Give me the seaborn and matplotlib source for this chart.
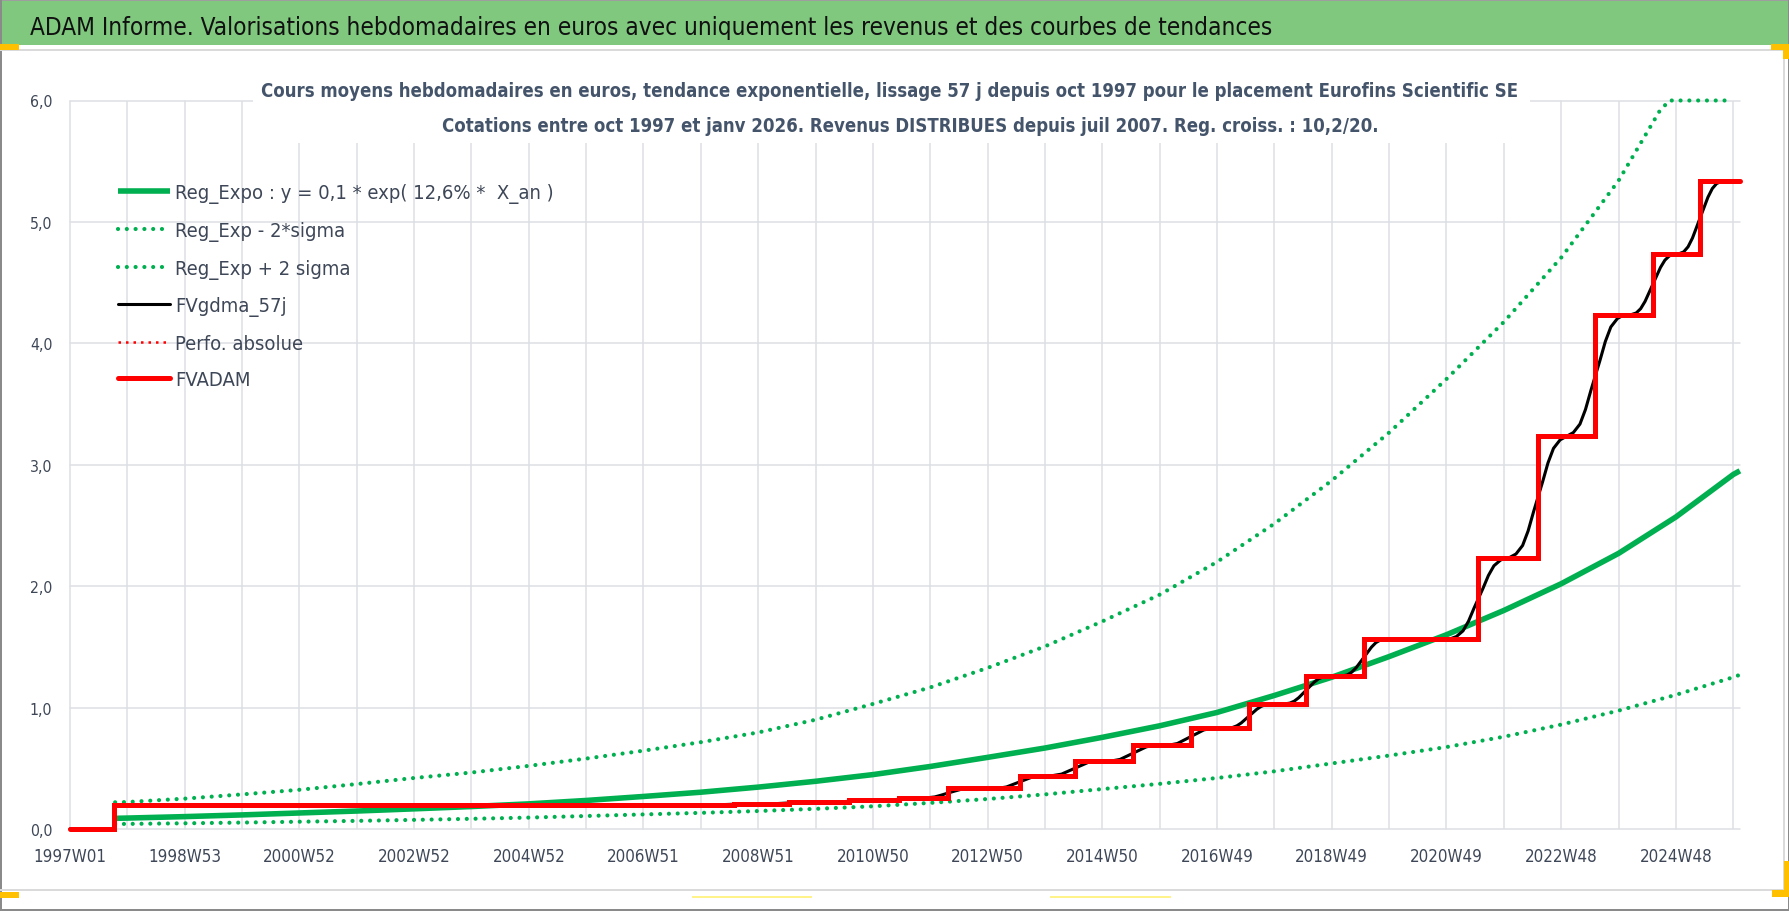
import numpy as np
import pandas as pd
import seaborn as sns
import matplotlib
matplotlib.use("Agg")
import matplotlib.pyplot as plt
from matplotlib import font_manager as fm
from matplotlib.patches import Rectangle

# ---------------- data ----------------
N_WEEKS = 1515  # weekly categories 1997W01 ... 2026W02
X_TICK_LABELS = ["1997W01", "1998W53", "2000W52", "2002W52", "2004W52", "2006W51",
                 "2008W51", "2010W50", "2012W50", "2014W50", "2016W49", "2018W49",
                 "2020W49", "2022W48", "2024W48"]
Y_TICK_LABELS = ["0,0", "1,0", "2,0", "3,0", "4,0", "5,0", "6,0"]

REG_WEEKS = [41, 52, 104, 156, 208, 260, 312, 364, 416, 468, 520, 572, 624, 676, 728,
             780, 832, 884, 936, 988, 1040, 1092, 1144, 1196, 1248, 1300, 1352, 1404,
             1456, 1508, 1514]
REG_EXPO = [0.088, 0.09, 0.102, 0.116, 0.132, 0.148, 0.166, 0.185, 0.207, 0.235, 0.268,
            0.303, 0.345, 0.393, 0.448, 0.515, 0.59, 0.667, 0.755, 0.85, 0.96, 1.1,
            1.25, 1.42, 1.6, 1.8, 2.02, 2.27, 2.57, 2.92, 2.95]
REG_LOW = [0.041, 0.042, 0.047, 0.053, 0.06, 0.067, 0.075, 0.084, 0.094, 0.107, 0.12,
           0.133, 0.148, 0.166, 0.187, 0.215, 0.247, 0.285, 0.329, 0.372, 0.42, 0.475,
           0.54, 0.605, 0.675, 0.76, 0.86, 0.975, 1.105, 1.25, 1.27]

UP_WEEKS = [41, 52, 104, 156, 208, 260, 312, 364, 416, 468, 520, 572, 624, 676, 728,
            780, 832, 884, 936, 988, 1040, 1092, 1144, 1196, 1248, 1300, 1352, 1404,
            1441, 1450, 1508]
REG_UP = [0.22, 0.222, 0.25, 0.285, 0.323, 0.37, 0.42, 0.465, 0.52, 0.58, 0.645, 0.715,
          0.795, 0.9, 1.03, 1.166, 1.327, 1.504, 1.71, 1.93, 2.2, 2.515, 2.87, 3.265,
          3.706, 4.176, 4.706, 5.34, 5.91, 6.0, 6.0]

FVADAM_WEEKS = [0, 40, 549, 602, 652, 706, 752, 796, 861, 911, 964, 1016, 1069, 1121,
                1173, 1277, 1331, 1383, 1435, 1478, 1514]
FVADAM = [0.0, 0.197, 0.2, 0.209, 0.221, 0.235, 0.256, 0.335, 0.44, 0.56, 0.69, 0.83,
          1.03, 1.26, 1.565, 2.235, 3.235, 4.235, 4.735, 5.335, 5.335]

FVGDMA_WEEKS = [0, 40, 41, 590, 615, 640, 665, 694, 718, 740, 764,
                776, 784, 790, 796, 802, 808, 816,
                841, 849, 855, 861, 867, 873, 881,
                891, 899, 905, 911, 917, 923, 931,
                944, 952, 958, 964, 970, 976, 984,
                996, 1004, 1010, 1016, 1022, 1028, 1036,
                1049, 1054, 1058, 1062, 1066, 1069, 1072, 1076, 1080, 1084, 1089,
                1101, 1106, 1110, 1114, 1118, 1121, 1124, 1128, 1132, 1136, 1141,
                1153, 1158, 1162, 1166, 1170, 1173, 1176, 1180, 1184, 1188, 1193,
                1251, 1257, 1263, 1268, 1273, 1277, 1281, 1286, 1291, 1297, 1303,
                1305, 1311, 1317, 1322, 1327, 1331, 1335, 1340, 1345, 1351, 1357,
                1363, 1369, 1374, 1379, 1383, 1387, 1392, 1397, 1403, 1409,
                1415, 1420, 1424, 1428, 1432, 1435, 1438, 1442, 1446, 1450, 1455,
                1458, 1463, 1467, 1471, 1475, 1478, 1481, 1485, 1489, 1493, 1498, 1514]
FVGDMA = [0.0, 0.0, 0.197, 0.2, 0.209, 0.209, 0.221, 0.221, 0.235, 0.235, 0.256,
          0.256, 0.264, 0.279, 0.296, 0.312, 0.327, 0.335,
          0.335, 0.346, 0.367, 0.388, 0.409, 0.43, 0.44,
          0.44, 0.452, 0.476, 0.5, 0.524, 0.548, 0.56,
          0.56, 0.573, 0.599, 0.625, 0.651, 0.677, 0.69,
          0.69, 0.704, 0.732, 0.76, 0.788, 0.816, 0.83,
          0.83, 0.836, 0.85, 0.874, 0.906, 0.93, 0.954, 0.986, 1.01, 1.024, 1.03,
          1.03, 1.037, 1.053, 1.081, 1.117, 1.145, 1.173, 1.209, 1.237, 1.252, 1.26,
          1.26, 1.269, 1.291, 1.327, 1.376, 1.413, 1.449, 1.498, 1.535, 1.556, 1.565,
          1.565, 1.585, 1.632, 1.712, 1.82, 1.9, 1.98, 2.088, 2.168, 2.215, 2.235,
          2.235, 2.265, 2.335, 2.455, 2.615, 2.735, 2.855, 3.015, 3.135, 3.205, 3.235,
          3.265, 3.335, 3.455, 3.615, 3.735, 3.855, 4.015, 4.135, 4.205, 4.235,
          4.235, 4.25, 4.285, 4.345, 4.425, 4.485, 4.545, 4.625, 4.685, 4.72, 4.735,
          4.735, 4.753, 4.795, 4.867, 4.963, 5.035, 5.107, 5.203, 5.275, 5.317, 5.335, 5.335]

TITLE = ("ADAM Informe. Valorisations hebdomadaires en euros avec uniquement les revenus "
         "et des courbes de tendances")
SUB1 = ("Cours moyens hebdomadaires en euros, tendance exponentielle, lissage 57 j depuis "
        "oct 1997 pour le placement Eurofins Scientific SE")
SUB2 = ("Cotations entre oct 1997 et janv 2026. Revenus DISTRIBUES depuis juil 2007. "
        "Reg. croiss. : 10,2/20.")
LEGEND_LABELS = ["Reg_Expo : y = 0,1 * exp( 12,6% *  X_an )", "Reg_Exp - 2*sigma",
                 "Reg_Exp + 2 sigma", "FVgdma_57j", "Perfo. absolue", "FVADAM"]

# ---------------- style ----------------
W, H = 1790, 912
GREEN = "#00B050"
RED = "#FF0000"
GRID = "#DCDFE4"
TEXT = "#3E4757"
SUBC = "#44546A"

sns.set_theme(style="white")
entries = fm.fontManager.ttflist
names = {f.name for f in entries}
stretch = "normal"
if "Liberation Sans Narrow" in names:
    FONT = "Liberation Sans Narrow"
elif any(f.name == "DejaVu Sans" and "condensed" in str(f.stretch) for f in entries):
    FONT, stretch = "DejaVu Sans", "condensed"
elif "Lato" in names:
    FONT = "Lato"
else:
    FONT = "DejaVu Sans"
plt.rcParams["font.family"] = [FONT, "DejaVu Sans"]
plt.rcParams["font.stretch"] = stretch

fig = plt.figure(figsize=(W / 100, H / 100), dpi=100)
fig.patch.set_facecolor("white")


def px_rect(x0, y0, x1, y1, color, z=-1):
    fig.add_artist(Rectangle((x0 / W, 1 - y1 / H), (x1 - x0) / W, (y1 - y0) / H,
                             transform=fig.transFigure, facecolor=color,
                             edgecolor="none", zorder=z))


# window / chart decorations
px_rect(0, 1, W, 46, "#7FC87E")
px_rect(0, 0, W, 1.5, "#9E9E9E")
px_rect(0, 0, 2, H, "#8A8A8A")
px_rect(W - 2, 0, W, H, "#8A8A8A")
px_rect(0, H - 2.5, W, H, "#8A8A8A")
px_rect(0, 50, 1785, 52, "#DADADA")
px_rect(1783, 50, 1785, 892, "#DADADA")
px_rect(0, 890, 1785, 892, "#DADADA")
px_rect(0, 45, 19, 51, "#FFC000")
px_rect(1771, 45, 1789, 51, "#FFC000")
px_rect(1783, 45, 1789, 60, "#FFC000")
px_rect(0, 893, 19, 899, "#FFC000")
px_rect(1784, 862, 1790, 898, "#FFC000")
px_rect(1772, 891, 1790, 898, "#FFC000")
px_rect(692, 897, 812, 899, "#FFF38A")
px_rect(1050, 897, 1171, 899, "#FFF38A")

ax = fig.add_axes([69.9 / W, 1 - 830 / H, 1670 / W, (830 - 101.5) / H])
ax.set_facecolor("white")

sns.lineplot(data=pd.DataFrame({"week": REG_WEEKS, "value": REG_EXPO}), x="week", y="value",
             ax=ax, color=GREEN, linewidth=4.0, estimator=None, clip_on=False,
             solid_capstyle="butt", solid_joinstyle="round", label=LEGEND_LABELS[0])
sns.lineplot(data=pd.DataFrame({"week": REG_WEEKS, "value": REG_LOW}), x="week", y="value",
             ax=ax, color=GREEN, linewidth=3.0, estimator=None, clip_on=False,
             linestyle=(0, (0.01, 2.1)), dash_capstyle="round", label=LEGEND_LABELS[1])
sns.lineplot(data=pd.DataFrame({"week": UP_WEEKS, "value": REG_UP}), x="week", y="value",
             ax=ax, color=GREEN, linewidth=3.0, estimator=None, clip_on=False,
             linestyle=(0, (0.01, 2.1)), dash_capstyle="round", label=LEGEND_LABELS[2])
sns.lineplot(data=pd.DataFrame({"week": FVGDMA_WEEKS, "value": FVGDMA}), x="week", y="value",
             ax=ax, color="black", linewidth=2.2, estimator=None, clip_on=False,
             solid_joinstyle="round", label=LEGEND_LABELS[3])
ax.plot([], [], color=RED, linewidth=1.8, linestyle=(0, (1.0, 2.0)), label=LEGEND_LABELS[4])
sns.lineplot(data=pd.DataFrame({"week": FVADAM_WEEKS, "value": FVADAM}), x="week", y="value",
             ax=ax, color=RED, linewidth=3.6, estimator=None, clip_on=False,
             drawstyle="steps-post", solid_joinstyle="miter", label=LEGEND_LABELS[5])

ax.set_xlim(0, N_WEEKS - 1)
ax.set_ylim(0, 6)
ax.set_xlabel("")
ax.set_ylabel("")
ax.set_xticks(np.arange(len(X_TICK_LABELS)) * 104)
ax.set_xticklabels(X_TICK_LABELS)
ax.set_xticks(np.arange(0, N_WEEKS, 52), minor=True)
ax.set_yticks(np.arange(len(Y_TICK_LABELS)))
ax.set_yticklabels(Y_TICK_LABELS)
for s in ax.spines.values():
    s.set_visible(False)
ax.set_axisbelow(True)
ax.grid(True, which="both", axis="x", color=GRID, linewidth=1.1)
ax.grid(True, which="major", axis="y", color=GRID, linewidth=1.1)
for gl in ax.get_xgridlines() + ax.get_ygridlines():
    gl.set_clip_on(False)

renderer = fig.canvas.get_renderer()


def width_at(s, size, weight="normal"):
    t = fig.text(0, 0, s, fontsize=size, fontweight=weight)
    w = t.get_window_extent(renderer).width
    t.remove()
    return w


def fit(s, target, weight="normal"):
    return 20 * target / width_at(s, 20, weight)


xfs = fit("1998W53", 65) * 1.12
yfs = fit("6,0", 20) * 1.12
ax.tick_params(axis="x", which="both", length=3.6, width=1.1, color=GRID, pad=9.5,
               labelcolor=TEXT, labelsize=xfs)
ax.tick_params(axis="x", which="minor", labelbottom=False)
ax.tick_params(axis="y", length=0, pad=12.6, labelcolor=TEXT, labelsize=yfs)

# title bar text
tfs = fit(TITLE, 1242)
fig.text(30 / W, 1 - 35 / H, TITLE, fontsize=tfs, color="#111111", ha="left",
         va="baseline", zorder=6)

# subtitle with white background
px_rect(253, 55, 1530, 144, "white", z=5)
sfs = fit(SUB1, 1265, "bold")
fig.text(890 / W, 1 - 97 / H, SUB1, fontsize=sfs, fontweight="bold", color=SUBC,
         ha="center", va="baseline", zorder=6)
fig.text(910 / W, 1 - 132 / H, SUB2, fontsize=sfs, fontweight="bold", color=SUBC,
         ha="center", va="baseline", zorder=6)

# legend
handles, labels = ax.get_legend_handles_labels()
lfs = fit(LEGEND_LABELS[0], 379)
lfs_px = lfs * 100 / 72
anchor = [118 / W, 1 - 175 / H]
lsp = 0.6
ROW0, PITCH = 194.5, 37.3
for _ in range(4):
    leg = ax.legend(handles, labels, loc="upper left", bbox_to_anchor=tuple(anchor),
                    bbox_transform=fig.transFigure, frameon=False, fontsize=lfs,
                    handlelength=52 / lfs_px, handletextpad=5 / lfs_px, labelspacing=lsp,
                    borderpad=0, borderaxespad=0)
    for t in leg.get_texts():
        t.set_color(TEXT)
    fig.canvas.draw()
    r = fig.canvas.get_renderer()
    ext = [t.get_window_extent(r) for t in leg.get_texts()]
    c0 = H - (ext[0].y0 + ext[0].y1) / 2
    c5 = H - (ext[-1].y0 + ext[-1].y1) / 2
    pitch = (c5 - c0) / 5
    lsp += (PITCH - pitch) / lfs_px
    anchor[1] -= (ROW0 - c0) / H
    anchor[0] += (175 - ext[0].x0) / W

fig.savefig("out.png", dpi=100)
